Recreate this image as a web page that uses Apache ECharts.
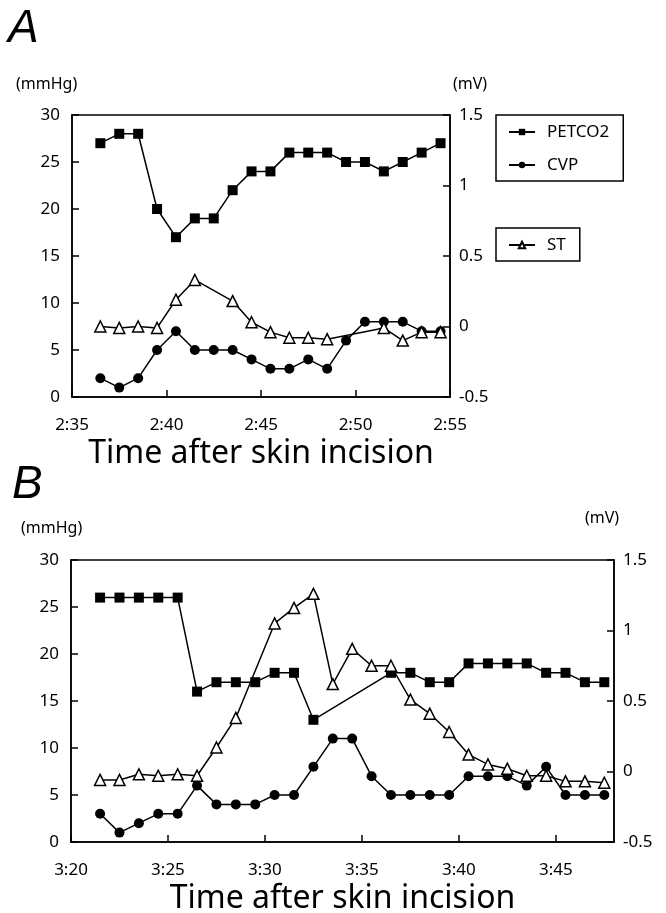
<!DOCTYPE html>
<html>
<head>
<meta charset="utf-8">
<script src="https://cdn.jsdelivr.net/npm/echarts@6/dist/echarts.min.js"></script>
<style>
  html, body { margin: 0; padding: 0; background: #fff; }
  #main { width: 666px; height: 913px; }
</style>
</head>
<body>
<div id="main"></div>
<script>
// panel A (2:35 - 2:55), minutes after 2:00
var timeA = [36.5, 37.5, 38.5, 39.5, 40.5, 41.5, 42.5, 43.5, 44.5, 45.5, 46.5, 47.5, 48.5, 49.5, 50.5, 51.5, 52.5, 53.5, 54.5]
var petco2A = [27, 28, 28, 20, 17, 19, 19, 22, 24, 24, 26, 26, 26, 25, 25, 24, 25, 26, 27]
var cvpA = [2, 1, 2, 5, 7, 5, 5, 5, 4, 3, 3, 4, 3, 6, 8, 8, 8, 7, 7]
var stA = [0.0, -0.01, 0.0, -0.01, 0.19, 0.33, null, 0.18, 0.03, -0.04, -0.08, -0.08, -0.09, null, null, -0.01, -0.1, -0.04, -0.04]

// panel B (3:20 - 3:48), minutes after 3:00
var timeB = [21.5, 22.5, 23.5, 24.5, 25.5, 26.5, 27.5, 28.5, 29.5, 30.5, 31.5, 32.5, 33.5, 34.5, 35.5, 36.5, 37.5, 38.5, 39.5, 40.5, 41.5, 42.5, 43.5, 44.5, 45.5, 46.5, 47.5]
var petco2B = [26, 26, 26, 26, 26, 16, 17, 17, 17, 18, 18, 13, null, null, null, 18, 18, 17, 17, 19, 19, 19, 19, 18, 18, 17, 17]
var cvpB = [3, 1, 2, 3, 3, 6, 4, 4, 4, 5, 5, 8, 11, 11, 7, 5, 5, 5, 5, 7, 7, 7, 6, 8, 5, 5, 5]
var stB = [-0.06, -0.06, -0.02, -0.03, -0.02, -0.03, 0.17, 0.38, null, 1.05, 1.16, 1.26, 0.62, 0.87, 0.75, 0.75, 0.51, 0.41, 0.28, 0.12, 0.05, 0.02, -0.03, -0.03, -0.07, -0.07, -0.08]

var mmHgTicks = { min: 0, max: 30, interval: 5 }
var mVTicks = { min: -0.5, max: 1.5, interval: 0.5 }

var FONT = 'Noto Sans'

function pairs(xs, ys) {
  return xs.map(function (x, i) { return [x, ys[i]] })
}

function line(name, xs, ys, grid, yAxis, symbol, size, fill) {
  return {
    name: name,
    type: 'line',
    xAxisIndex: grid,
    yAxisIndex: yAxis,
    data: pairs(xs, ys),
    connectNulls: true,
    symbol: symbol,
    symbolSize: size,
    showAllSymbol: true,
    animation: false,
    lineStyle: { color: '#000', width: 1.5 },
    itemStyle: { color: fill, borderColor: '#000', borderWidth: symbol == 'triangle' ? 1.5 : 0 }
  }
}

function xAxis(grid, min, max, hour) {
  return {
    type: 'value',
    gridIndex: grid,
    min: min,
    max: max,
    interval: 5,
    name: 'Time after skin incision',
    nameLocation: 'middle',
    nameGap: 41,
    nameTextStyle: { fontFamily: FONT, fontSize: 32, color: '#000' },
    axisLine: { lineStyle: { color: '#000', width: 1.5 } },
    axisTick: { inside: true, length: 7, lineStyle: { color: '#000', width: 1.5 } },
    axisLabel: {
      showMaxLabel: max % 5 == 0,
      margin: 20,
      fontFamily: FONT, fontSize: 17, color: '#000',
      formatter: function (v) { return v % 5 == 0 ? hour + ':' + v : '' }
    },
    splitLine: { show: false }
  }
}

function yAxis(grid, ticks, pos) {
  return {
    type: 'value',
    gridIndex: grid,
    position: pos,
    min: ticks.min,
    max: ticks.max,
    interval: ticks.interval,
    axisLine: { show: true, lineStyle: { color: '#000', width: 1.5 } },
    axisTick: { show: true, inside: true, length: 7, lineStyle: { color: '#000', width: 1.5 } },
    axisLabel: { margin: pos == 'left' ? 12 : 9, fontFamily: FONT, fontSize: 17, color: '#000' },
    splitLine: { show: false }
  }
}

function label(text, left, top, size, italic) {
  return {
    text: text, left: left, top: top, padding: 0,
    textStyle: {
      fontFamily: italic ? 'Liberation Sans' : FONT,
      fontSize: size, fontWeight: 'normal', fontStyle: italic ? 'italic' : 'normal', color: '#000'
    }
  }
}

function legend(names, top) {
  return {
    data: names,
    orient: 'vertical',
    left: 496,
    top: top,
    padding: [7, 14, 6, 12],
    itemGap: 13,
    itemWidth: 26,
    itemHeight: 8,
    borderColor: '#000',
    borderWidth: 1.5,
    borderRadius: 0,
    selectedMode: false,
    textStyle: { fontFamily: FONT, fontSize: 17, color: '#000', lineHeight: 20, padding: [0, 0, 0, 7] }
  }
}

var chart = echarts.init(document.getElementById('main'), null, { renderer: 'canvas' })

var option = {
  backgroundColor: '#fff',
  animation: false,
  title: [
    label('A', 8, 6, 46, true),
    label('(mmHg)', 16, 76, 16),
    label('(mV)', 453, 76, 16),
    label('B', 12, 462, 46, true),
    label('(mmHg)', 21, 520, 16),
    label('(mV)', 585, 510, 16)
  ],
  legend: [
    legend(['PETCO2', 'CVP'], 115),
    legend(['ST'], 228)
  ],
  grid: [
    { left: 72, top: 115, width: 378, height: 282, outerBoundsMode: 'none', show: true, borderColor: '#000', borderWidth: 1.5 },
    { left: 71, top: 560, width: 543, height: 282, outerBoundsMode: 'none', show: true, borderColor: '#000', borderWidth: 1.5 }
  ],
  xAxis: [
    xAxis(0, 35, 55, 2),
    xAxis(1, 20, 48, 3)
  ],
  yAxis: [
    yAxis(0, mmHgTicks, 'left'),
    yAxis(0, mVTicks, 'right'),
    yAxis(1, mmHgTicks, 'left'),
    yAxis(1, mVTicks, 'right')
  ],
  series: [
    line('PETCO2', timeA, petco2A, 0, 0, 'rect', 10, '#000'),
    line('CVP', timeA, cvpA, 0, 0, 'circle', 10, '#000'),
    line('ST', timeA, stA, 0, 1, 'triangle', 11, '#fff'),
    line('PETCO2', timeB, petco2B, 1, 2, 'rect', 10, '#000'),
    line('CVP', timeB, cvpB, 1, 2, 'circle', 10, '#000'),
    line('ST', timeB, stB, 1, 3, 'triangle', 11, '#fff')
  ]
}

chart.setOption(option)
</script>
</body>
</html>
